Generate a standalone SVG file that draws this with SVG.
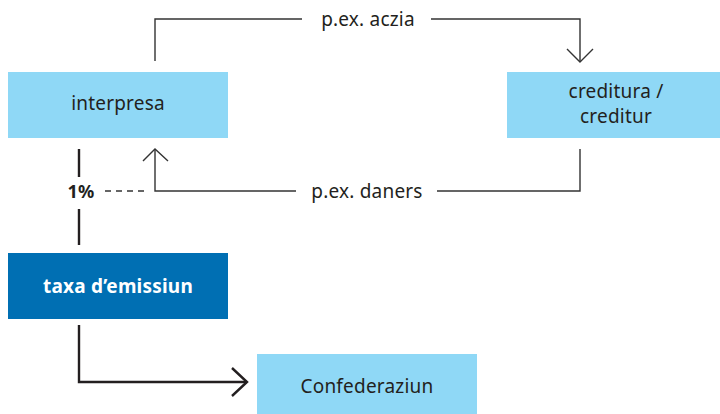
<svg xmlns="http://www.w3.org/2000/svg" width="720" height="414" viewBox="0 0 720 414">
<style>
.lb{fill:#8fd8f6}
.db{fill:#006fb3}
text{font-family:"Noto Sans","Open Sans",sans-serif;font-size:19px;fill:#231f20;text-anchor:middle;letter-spacing:0.2px}
.w{fill:#fff;font-weight:bold}
.b{font-weight:bold;font-size:18px}
.thin{fill:none;stroke:#333;stroke-width:1.4}
.thick{fill:none;stroke:#231f20;stroke-width:2.4}
</style>
<rect width="720" height="414" fill="#fff"/>
<g id="interpresa"><rect class="lb" x="8" y="72" width="220" height="66"/><text x="118" y="110">interpresa</text></g>
<g id="creditura"><rect class="lb" x="507" y="72" width="220" height="66"/><text x="616" y="98">creditura /</text><text x="616" y="123">creditur</text></g>
<g id="taxa"><rect class="db" x="8" y="253" width="220" height="66"/><text class="w" x="118" y="293">taxa d’emissiun</text></g>
<g id="confederaziun"><rect class="lb" x="257" y="354" width="220" height="60"/><text x="367" y="393">Confederaziun</text></g>
<g id="connectors">
<path class="thin" d="M155,61 V19 H302 M431,19 H580 V62"/>
<path class="thin" d="M567,49 L580,62 L593,49"/>
<text x="368" y="26">p.ex. aczia</text>
<path class="thin" d="M580,149 V191 H437 M296,191 H155 V149"/>
<path class="thin" d="M143,161 L155,149 L168,161"/>
<text x="367" y="198">p.ex. daners</text>
<path class="thin" d="M105,191 H147" stroke-dasharray="6,5"/>
<path class="thick" d="M79,149 V177 M79,209 V245"/>
<text class="b" x="81" y="198">1%</text>
<path class="thick" d="M79,325 V382 H247"/>
<path class="thick" d="M232,368 L247,382 L232,396"/>
</g>
</svg>
